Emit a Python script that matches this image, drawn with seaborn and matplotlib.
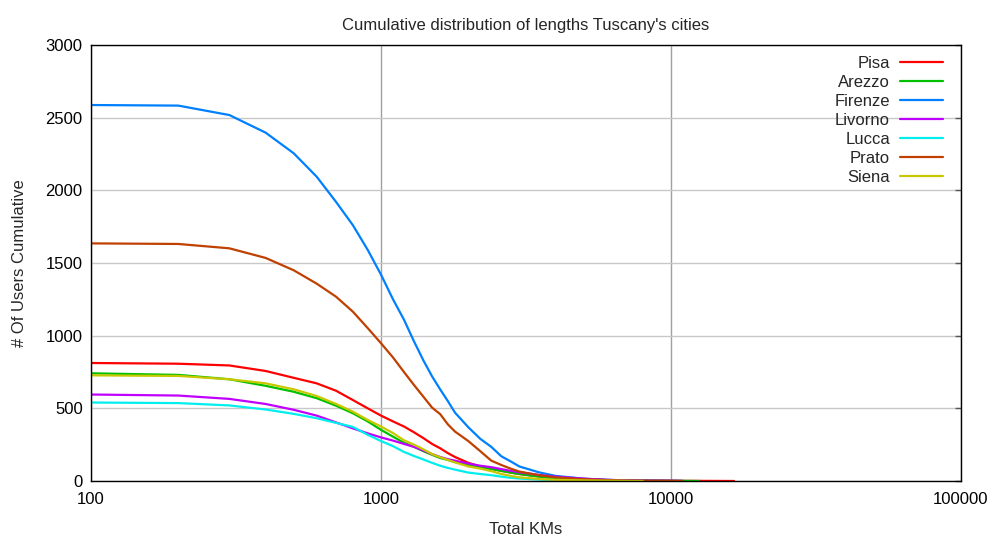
import numpy as np
import pandas as pd
import matplotlib
matplotlib.use("Agg")
import matplotlib.pyplot as plt
import matplotlib.ticker as mticker
import seaborn as sns

# Distance thresholds (km) at which the cumulative user counts are taken
kms = [100, 200, 300, 400, 500, 600, 700, 800, 900, 1000,
       1100, 1200, 1300, 1400, 1500, 1600, 1700, 1800, 2000, 2200,
       2400, 2600, 2800, 3000, 3500, 4000, 5000, 6000, 7000, 8000,
       10000, 11000, 12500, 16500]

nan = np.nan
pisa = [812, 807, 795, 757, 710, 672, 621, 557, 500, 450,
        410, 375, 335, 295, 255, 225, 192, 165, 125, 100,
        85, 70, 58, 48, 32, 22, 12, 7, 5, 3,
        2, 1, 1, 0]
arezzo = [741, 730, 700, 655, 614, 570, 518, 466, 410, 352,
          305, 263, 235, 205, 180, 158, 145, 130, 112, 95,
          82, 70, 58, 48, 30, 20, 10, 6, 4, 3,
          1, 1, 0, nan]
firenze = [2587, 2583, 2518, 2397, 2255, 2094, 1920, 1760, 1590, 1420,
           1250, 1110, 960, 830, 720, 630, 550, 470, 370, 290,
           235, 170, 135, 100, 60, 35, 16, 8, 4, 2,
           1, 0, nan, nan]
livorno = [595, 588, 565, 530, 490, 450, 403, 362, 328, 300,
           278, 255, 235, 210, 185, 165, 150, 140, 120, 105,
           95, 82, 70, 60, 42, 30, 16, 8, 4, 2,
           1, 0, nan, nan]
lucca = [540, 536, 520, 492, 462, 432, 400, 372, 318, 275,
         240, 200, 172, 148, 125, 105, 90, 78, 58, 48,
         40, 30, 22, 17, 10, 6, 3, 1, 0, nan,
         nan, nan, nan, nan]
prato = [1635, 1631, 1601, 1535, 1450, 1358, 1268, 1165, 1052, 948,
         850, 750, 660, 580, 505, 460, 390, 340, 275, 205,
         140, 110, 85, 65, 40, 25, 12, 6, 3, 2,
         1, 0, nan, nan]
siena = [727, 723, 700, 672, 631, 585, 530, 477, 420, 375,
         330, 280, 250, 218, 185, 163, 145, 128, 100, 85,
         68, 48, 35, 25, 14, 8, 4, 2, 1, 0,
         nan, nan, nan, nan]

cities = ["Pisa", "Arezzo", "Firenze", "Livorno", "Lucca", "Prato", "Siena"]
series = [pisa, arezzo, firenze, livorno, lucca, prato, siena]
colors = ["#ff0000", "#00c000", "#0080ff", "#c000ff", "#00eeee", "#c04000", "#c8c800"]

x_ticks = [100, 1000, 10000, 100000]
y_ticks = [0, 500, 1000, 1500, 2000, 2500, 3000]

frames = []
for name, vals in zip(cities, series):
    frames.append(pd.DataFrame({"km": kms, "users": vals, "city": name}))
df = pd.concat(frames, ignore_index=True).dropna()

sns.set_theme(style="white")
plt.rcParams["font.family"] = ["Liberation Sans", "DejaVu Sans"]

fs = 12

fig = plt.figure(figsize=(9.93, 5.40), dpi=100)
ax = fig.add_axes([91 / 993, 1 - 481 / 540, 870 / 993, 436 / 540])

sns.lineplot(data=df, x="km", y="users", hue="city", hue_order=cities,
             palette=colors, estimator=None, sort=True, linewidth=1.6,
             ax=ax)

ax.set_xscale("log")
ax.set_xlim(100, 100000)
ax.set_ylim(0, 3000)
ax.xaxis.set_major_locator(mticker.FixedLocator(x_ticks))
ax.xaxis.set_major_formatter(mticker.FixedFormatter([str(t) for t in x_ticks]))
ax.xaxis.set_minor_locator(mticker.NullLocator())
ax.yaxis.set_major_locator(mticker.FixedLocator(y_ticks))

ax.grid(True, axis="x", color="#a0a0a0", linewidth=1.0)
ax.grid(True, axis="y", color="#c8c8c8", linewidth=1.0)
ax.set_axisbelow(True)

for s in ax.spines.values():
    s.set_color("black")
    s.set_linewidth(1.0)

ax.tick_params(axis="both", which="major", direction="in", length=4,
               width=1.0, color="#555555", labelsize=fs, labelcolor="black",
               pad=6)
ax.tick_params(axis="y", right=True)
ax.tick_params(axis="x", length=0, pad=8)

ax.set_title("Cumulative distribution of lengths Tuscany's cities",
             fontsize=fs, pad=11)
ax.set_xlabel("Total KMs", fontsize=fs, labelpad=11)
ax.set_ylabel("# Of Users Cumulative", fontsize=fs, labelpad=13)

handles, labels = ax.get_legend_handles_labels()
leg = ax.legend(handles, labels, loc="upper right", frameon=False,
                markerfirst=False, fontsize=fs, handlelength=2.6,
                handletextpad=0.6, labelspacing=0.24,
                bbox_to_anchor=(0.9875, 0.990), borderaxespad=0.0)
for t in leg.get_texts():
    t.set_ha("right")
for ln in leg.get_lines():
    ln.set_linewidth(1.6)

fig.savefig("out.png", dpi=100)
